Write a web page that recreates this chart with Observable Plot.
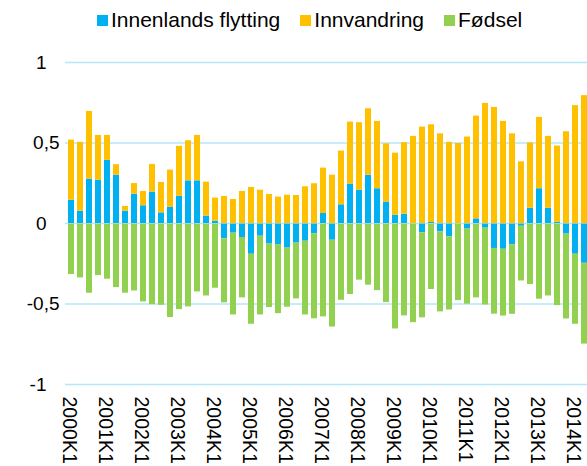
<!DOCTYPE html>
<html><head><meta charset="utf-8">
<script src="https://cdn.jsdelivr.net/npm/d3@7"></script>
<script src="https://cdn.jsdelivr.net/npm/@observablehq/plot@0.6"></script>
<style>
html,body{margin:0;padding:0;overflow:hidden;background:#fff;width:587px;height:466px}
body{font-family:"Liberation Sans",Arial,sans-serif}
#legend{height:40px;display:flex;align-items:center;padding-left:97px;font-size:21px;color:#000;box-sizing:border-box}
.item{display:flex;align-items:center;margin-right:20px;white-space:nowrap}
.sw{width:11px;height:11px;margin-right:3px}
#chart{width:591px}
</style></head><body>
<div id="legend"></div><div id="chart"></div>
<script>
const quarters = ["2000K1","2000K2","2000K3","2000K4","2001K1","2001K2","2001K3","2001K4","2002K1","2002K2","2002K3","2002K4","2003K1","2003K2","2003K3","2003K4","2004K1","2004K2","2004K3","2004K4","2005K1","2005K2","2005K3","2005K4","2006K1","2006K2","2006K3","2006K4","2007K1","2007K2","2007K3","2007K4","2008K1","2008K2","2008K3","2008K4","2009K1","2009K2","2009K3","2009K4","2010K1","2010K2","2010K3","2010K4","2011K1","2011K2","2011K3","2011K4","2012K1","2012K2","2012K3","2012K4","2013K1","2013K2","2013K3","2013K4","2014K1","2014K2"];
const tickLabels = ["2000K1","2001K1","2002K1","2003K1","2004K1","2005K1","2006K1","2007K1","2008K1","2009K1","2010K1","2011K1","2012K1","2013K1","2014K1"];
const seriesNames = ["Innenlands flytting","Innvandring","Fødsel"];
const seriesColors = ["#00b0f0","#ffc000","#92d050"];
const innenlands = [0.145,0.077,0.276,0.269,0.392,0.30,0.077,0.182,0.11,0.195,0.066,0.10,0.17,0.265,0.265,0.046,0.015,-0.095,-0.06,-0.087,-0.191,-0.079,-0.128,-0.131,-0.153,-0.122,-0.11,-0.064,0.062,-0.104,0.116,0.245,0.207,0.30,0.216,0.133,0.052,0.058,0.0,-0.058,0.006,-0.052,-0.083,0.0,-0.035,0.029,-0.029,-0.155,-0.16,-0.133,-0.017,0.095,0.216,0.095,0.008,-0.066,-0.191,-0.247];
const innvandring = [0.373,0.427,0.42,0.278,0.155,0.065,0.029,0.066,0.089,0.172,0.189,0.232,0.309,0.249,0.282,0.211,0.143,0.168,0.149,0.199,0.224,0.207,0.18,0.164,0.176,0.174,0.228,0.247,0.282,0.30,0.334,0.385,0.419,0.413,0.418,0.362,0.385,0.444,0.541,0.599,0.607,0.557,0.504,0.497,0.537,0.638,0.746,0.721,0.634,0.557,0.383,0.406,0.443,0.446,0.473,0.57,0.732,0.794];
const fodsel = [-0.317,-0.338,-0.433,-0.323,-0.346,-0.398,-0.433,-0.419,-0.487,-0.504,-0.508,-0.584,-0.535,-0.518,-0.425,-0.45,-0.402,-0.398,-0.508,-0.375,-0.435,-0.489,-0.394,-0.429,-0.367,-0.346,-0.458,-0.528,-0.58,-0.539,-0.477,-0.441,-0.352,-0.383,-0.417,-0.491,-0.655,-0.574,-0.616,-0.528,-0.41,-0.497,-0.454,-0.479,-0.466,-0.462,-0.477,-0.408,-0.415,-0.431,-0.34,-0.379,-0.47,-0.45,-0.51,-0.527,-0.435,-0.502];
const yTicksWhole = [-1,0,1];
const yTicksHalf = [-0.5,0.5];

const series = [innenlands, innvandring, fodsel];
const data = [];
quarters.forEach((q, i) => {
  series.forEach((arr, k) => data.push({q, s: seriesNames[k], v: arr[i]}));
});

// legend
const legend = document.getElementById("legend");
seriesNames.forEach((n, k) => {
  const it = document.createElement("div");
  it.className = "item";
  const sw = document.createElement("span");
  sw.className = "sw";
  sw.style.background = seriesColors[k];
  const t = document.createElement("span");
  t.textContent = n;
  it.append(sw, t);
  legend.append(it);
});

const fmt = d => String(d).replace(".", ",");
const chart = Plot.plot({
  width: 591,
  height: 426,
  marginLeft: 65,
  marginRight: 0,
  marginTop: 22,
  marginBottom: 82,
  style: {fontFamily: "'Liberation Sans', Arial, sans-serif", fontSize: "19px", color: "#000", background: "#fff"},
  x: {domain: quarters, padding: 0.33, axis: null},
  y: {domain: [-1, 1], axis: null},
  color: {domain: seriesNames, range: seriesColors},
  marks: [
    Plot.ruleY([...yTicksWhole, ...yTicksHalf], {stroke: "#b5e6f9", strokeWidth: 1.6}),
    Plot.barY(data, {x: "q", y: "v", z: "s", fill: "s", inset: 0}),
    Plot.ruleY([0], {stroke: "#b5e6f9", strokeWidth: 1.2, strokeOpacity: 0.6}),
    Plot.axisY({ticks: yTicksWhole, tickSize: 0, tickPadding: 19, label: null, fontSize: 19, tickFormat: fmt}),
    Plot.axisY({ticks: yTicksHalf, tickSize: 0, tickPadding: 6, label: null, fontSize: 19, tickFormat: fmt}),
    Plot.axisX({ticks: tickLabels, tickRotate: 90, tickSize: 0, tickPadding: 12, dx: -2, label: null, fontSize: 19.5})
  ]
});
document.getElementById("chart").append(chart);
</script>
</body></html>
